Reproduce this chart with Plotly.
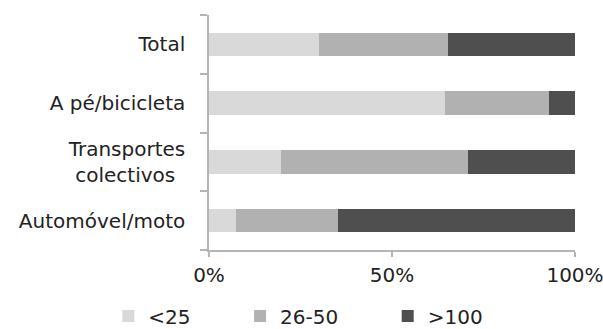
import plotly.graph_objects as go

# Share of trips by distance band, per transport mode (percent of each mode)
categories = ["Total", "A pé/bicicleta", "Transportes<br>colectivos\u2002", "Automóvel/moto"]
band_names = ["<25", "26-50", ">100"]
share_lt25 = [30.0, 64.5, 19.6, 7.5]
share_26_50 = [35.4, 28.4, 51.1, 27.8]
share_gt100 = [34.6, 7.1, 29.3, 64.7]
x_ticks = [0, 50, 100]
x_tick_text = ["0%", "50%", "100%"]

band_values = [share_lt25, share_26_50, share_gt100]
band_colors = ["#d9d9d9", "#b1b1b1", "#4f4f4f"]

# invisible padding widens the legend entries so they spread out
pad = "\u00a0" * 7

fig = go.Figure()
for i, (name, vals, col) in enumerate(zip(band_names, band_values, band_colors)):
    label = name if i == len(band_names) - 1 else name + pad
    fig.add_trace(go.Bar(
        y=categories, x=vals, name=label, orientation="h",
        marker=dict(color=col, line=dict(width=0)),
    ))

axis_grey = "#b4b4b4"
font_family = "DejaVu Sans"

fig.update_layout(
    template="none",
    barmode="stack",
    bargap=0.6,
    width=603, height=329,
    margin=dict(l=209, r=28, t=15, b=79, autoexpand=False),
    plot_bgcolor="white", paper_bgcolor="white",
    font=dict(family=font_family, size=20, color="#222222"),
    showlegend=True,
    legend=dict(
        orientation="h",
        x=-0.275, xanchor="left",
        y=-0.198, yanchor="top",
        font=dict(family=font_family, size=20, color="#222222"),
        traceorder="normal", itemwidth=30,
        bgcolor="rgba(0,0,0,0)", borderwidth=0,
    ),
)
fig.update_xaxes(
    range=[0, 100], tickvals=x_ticks, ticktext=x_tick_text,
    showgrid=False, zeroline=False, automargin=False,
    showline=True, linecolor=axis_grey, linewidth=1.5,
    ticks="outside", ticklen=5, tickcolor=axis_grey, tickwidth=1.5,
    ticklabelstandoff=1, ticklabeloverflow="allow",
    fixedrange=True,
)
fig.update_yaxes(
    categoryorder="array", categoryarray=categories[::-1],
    showgrid=False, zeroline=False, automargin=False,
    showline=True, linecolor=axis_grey, linewidth=1.5,
    ticks="outside", ticklen=7, tickcolor=axis_grey, tickwidth=1.5,
    tickson="boundaries", ticklabelstandoff=18,
    fixedrange=True,
)

fig.write_html("out.html", config=dict(displayModeBar=False))
